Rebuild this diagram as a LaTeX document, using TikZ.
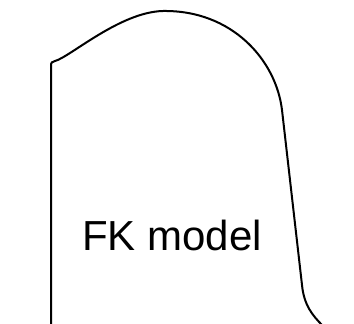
\documentclass[tikz,border=0pt]{standalone}
\usepackage{fontspec}
\setmainfont{Liberation Sans}
\begin{document}
\begin{tikzpicture}[x=1pt,y=-1pt,outline/.style={draw=black,line width=2pt,line join=round}]
\useasboundingbox (0,0) rectangle (354,324);
\draw[outline] (51,326) -- (51,66) .. controls (51,62) and (52,62) .. (55,61)
  .. controls (70,57) and (120,12) .. (163,11)
  .. controls (232,10) and (276,60) .. (282,110)
  -- (302,285) .. controls (304,305) and (312,315) .. (323,326);
\node[font=\fontsize{42}{50}\selectfont, anchor=base] (lbl) at (172,250) {FK model};
\end{tikzpicture}
\end{document}
